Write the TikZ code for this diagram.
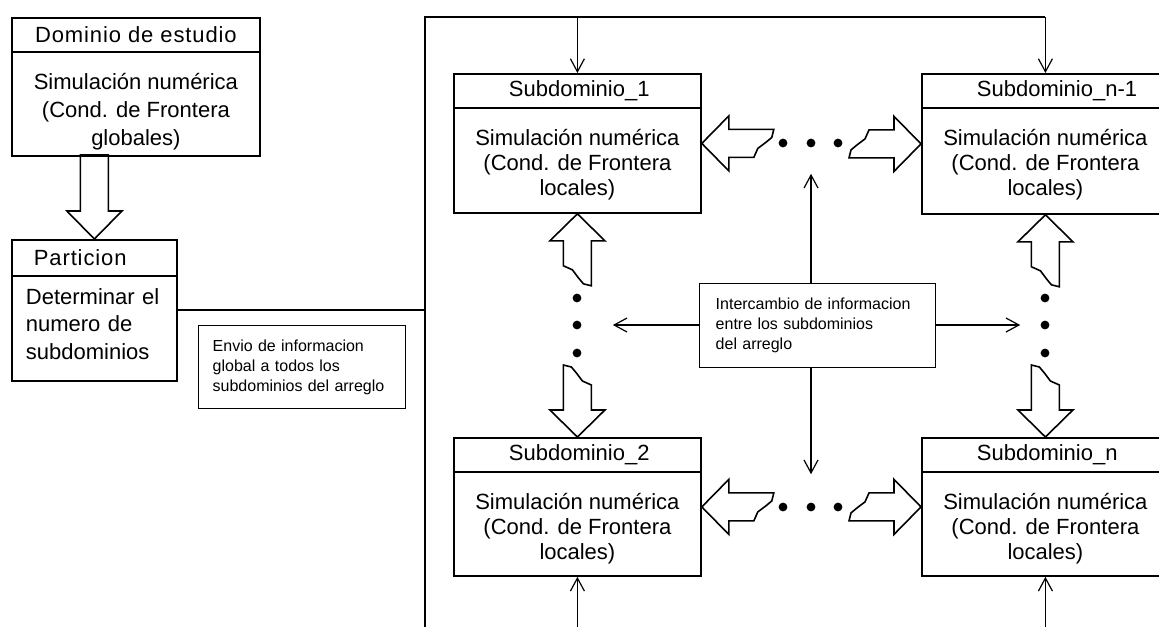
\documentclass[tikz,border=0pt]{standalone}
\usepackage{fontspec}
\setmainfont{Liberation Sans}
\usetikzlibrary{positioning,arrows.meta}
% flecha hueca con el extremo roto
\newcommand{\flecharota}[2]{%
	\draw[hueca, shift={(#1)}, rotate=#2] (0,0) -- (27.5,27) -- (14,27) -- (14,72) -- (6,70) -- (1,64) -- (-2,60) -- (-5,56) -- (-14,52) -- (-14,27) -- (-27.5,27) -- cycle;}

\begin{document}
\begin{tikzpicture}[x=0.5pt, y=-0.5pt,
	caja/.style={draw, line width=0.9pt, inner sep=0pt, anchor=north west},
	cab/.style={draw, line width=0.9pt, anchor=north, minimum height=17pt, inner sep=0pt, font=\fontsize{11pt}{13pt}\selectfont},
	cuerpo/.style={inner sep=0pt, align=center, font=\fontsize{11pt}{12.5pt}\selectfont},
	nota/.style={draw, line width=0.7pt, anchor=north west, inner xsep=7pt, align=left, font=\fontsize{8pt}{10pt}\selectfont},
	punto/.style={circle, fill, inner sep=0pt, minimum size=4.4pt},
	hueca/.style={line width=0.8pt},
	linea/.style={line width=0.8pt},
	flecha/.style={line width=0.6pt, -{Straight Barb[length=6.5pt,width=7pt]}}]

	\useasboundingbox (0,0) rectangle (1159,627);

	% Dominio de estudio
	\node[caja, minimum width=124pt, minimum height=69pt] (dominio) at (11,17) {};
	\node[cab, minimum width=124pt, font={\fontsize{11pt}{13pt}\selectfont\addfontfeature{LetterSpace=4}}] (dominiocab) at (dominio.north) {Dominio de estudio};
	\node[cuerpo, below=10pt of dominiocab, font=\fontsize{11pt}{14pt}\selectfont] (dominiotxt) {Simulación numérica\\(Cond. de Frontera\\globales)};

	% Particion
	\node[caja, minimum width=82.5pt, minimum height=70.5pt] (particion) at (11,239) {};
	\node[cab, minimum width=82.5pt, minimum height=18pt, text width=60.5pt, align=left, font={\fontsize{11pt}{13pt}\selectfont\addfontfeature{LetterSpace=4}}] (particioncab) at (particion.north) {Particion};
	\node[cuerpo, below=5.5pt of particioncab, text width=68.5pt, align=left, font=\fontsize{11pt}{13.75pt}\selectfont] (particiontxt) {Determinar el\\numero de\\subdominios};

	\draw[hueca] (particion.north) -- ++(-27.5,-28) -- ++(13.5,0) -- ++(0,-56) -- ++(28,0) -- ++(0,56) -- ++(13.5,0) -- cycle;

	\node[nota, text width=89.5pt, minimum height=41.5pt] (envio) at (198,325) {Envio de informacion\\global a todos los\\subdominios del arreglo};

	% Subdominios
	\node[caja, minimum width=123.5pt, minimum height=69.5pt] (sub1) at (453,73) {};
	\node[cab, minimum width=123.5pt, text width=68.5pt, align=left] (sub1cab) at (sub1.north) {Subdominio\_1};
	\node[cuerpo, below=10pt of sub1cab] (sub1txt) {Simulación numérica\\(Cond. de Frontera\\locales)};

	\node[caja, minimum width=123.5pt, minimum height=70pt] (subn1) at (921,73) {};
	\node[cab, minimum width=123.5pt, text width=68.5pt, align=left] (subn1cab) at (subn1.north) {\mbox{Subdominio\_n-1}};
	\node[cuerpo, below=10pt of subn1cab] (subn1txt) {Simulación numérica\\(Cond. de Frontera\\locales)};

	\node[caja, minimum width=123.5pt, minimum height=69pt] (sub2) at (453,437) {};
	\node[cab, minimum width=123.5pt, text width=68.5pt, align=left] (sub2cab) at (sub2.north) {Subdominio\_2};
	\node[cuerpo, below=10pt of sub2cab] (sub2txt) {Simulación numérica\\(Cond. de Frontera\\locales)};

	\node[caja, minimum width=123.5pt, minimum height=69pt] (subn) at (921,437) {};
	\node[cab, minimum width=123.5pt, text width=68.5pt, align=left] (subncab) at (subn.north) {Subdominio\_n};
	\node[cuerpo, below=10pt of subncab] (subntxt) {Simulación numérica\\(Cond. de Frontera\\locales)};

	% envio a todos los subdominios
	\coordinate (esqsup) at (425,17);
	\coordinate (esqinf) at (425,627);
	\coordinate (bus) at (425,310);
	\draw[linea] (particion.east |- bus) -- (bus);
	\draw[linea] (esqinf) -- (esqsup) -- (subn1.north |- esqsup);
	\draw[flecha] (sub1.north |- esqsup) -- (sub1.north);
	\draw[flecha] (subn1.north |- esqsup) -- (subn1.north);
	\draw[flecha] (sub2.south |- esqinf) -- (sub2.south);
	\draw[flecha] (subn.south |- esqinf) -- (subn.south);

	% puntos suspensivos
	\node[punto] (ps1) at (783,143) {};
	\node[punto] (ps2) at (811,143) {};
	\node[punto] (ps3) at (838,143) {};
	\node[punto] (pi1) at (783,507) {};
	\node[punto] (pi2) at (811,507) {};
	\node[punto] (pi3) at (838,507) {};
	\node[punto] (pl1) at (577,298) {};
	\node[punto] (pl2) at (577,325) {};
	\node[punto] (pl3) at (577,353) {};
	\node[punto] (pr1) at (1045,298) {};
	\node[punto] (pr2) at (1045,325) {};
	\node[punto] (pr3) at (1045,353) {};

	% flechas huecas entre subdominios
	\flecharota{sub1.east}{90}
	\flecharota{subn1.west}{-90}
	\flecharota{sub2.east}{90}
	\flecharota{subn.west}{-90}
	\flecharota{sub1.south}{0}
	\flecharota{sub2.north}{180}
	\flecharota{subn1.south}{0}
	\flecharota{subn.north}{180}

	% Intercambio
	\node[nota, inner xsep=8pt, text width=102pt, minimum height=42pt] (intercambio) at (699,283) {Intercambio de informacion\\entre los subdominios\\del arreglo};
	\draw[flecha, shorten >=13pt] (intercambio.north -| ps2) -- (ps2);
	\draw[flecha, shorten >=14pt] (intercambio.south -| pi2) -- (pi2);
	\draw[flecha, shorten >=15.5pt] (intercambio.west |- pl2) -- (pl2);
	\draw[flecha, shorten >=10pt] (intercambio.east |- pr2) -- (pr2);

\end{tikzpicture}
\end{document}
